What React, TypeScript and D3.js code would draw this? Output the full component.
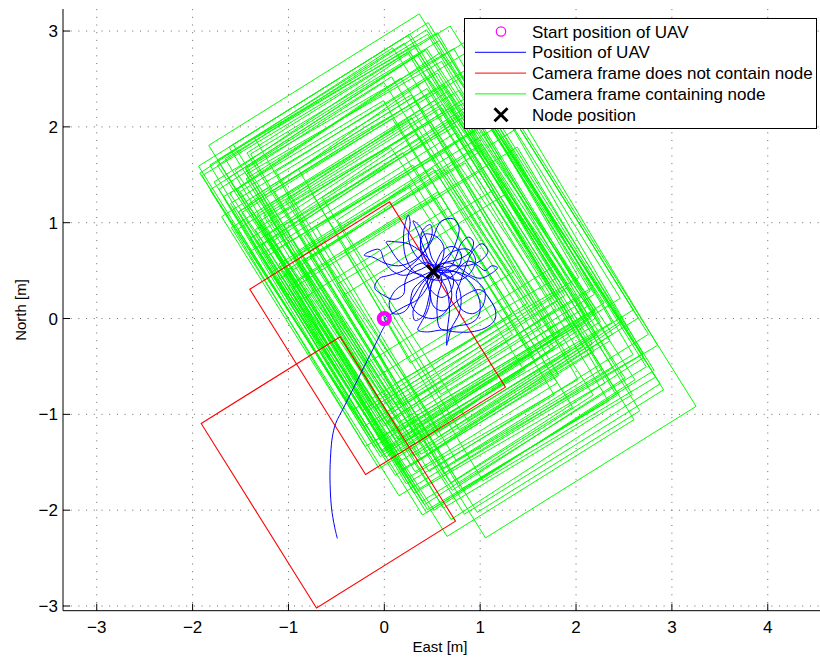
import React, { useEffect, useRef } from 'react';
import * as d3 from 'd3';

const xTicks = [-3, -2, -1, 0, 1, 2, 3, 4];
const yTicks = [-3, -2, -1, 0, 1, 2, 3];

const startPos = [0, 0];
const nodePos = [0.51, 0.49];

// camera frames on the ground: [east, north, width, height, yaw deg]
const missFrames = [
  [-0.07, -0.205, 1.72, 2.28, 32],
  [-0.584, -1.605, 1.71, 2.27, 32],
];

const hitFrames = [
  [0.18, 1.03, 2.59, 3.45, 32],
  [1.24, -0.14, 2.59, 3.45, 32],
  [-0.06, 0.85, 2.4, 3.15, 33],
  [0.159, 0.689, 2.5, 3.3, 32],
  [0.35, 0.572, 2.4, 3.2, 31],
  [0.276, 0.88, 2.6, 3.4, 33],
  [0.276, 0.409, 2.3, 3.1, 32],
  [0.466, 0.763, 2.5, 3.3, 30],
  [0.519, 0.207, 2.4, 3.2, 32],
  [0.18, 0.939, 2.2, 2.95, 34],
  [0.657, 0.647, 2.7, 3.6, 32],
  [0.085, 0.525, 2.2, 2.9, 31],
  [0.668, 0.064, 2.5, 3.3, 33],
  [0.583, 0.483, 2.3, 3.05, 31],
  [0.079, 0.816, 2.6, 3.45, 32],
  [0.827, 0.281, 2.4, 3.2, 33],
  [0.339, 0.212, 2.5, 3.3, 32],
  [0.355, 0.753, 2.35, 3.1, 30],
  [0.514, 0.97, 2.5, 3.35, 32],
  [0.28, 0.589, 2.7, 3.55, 33],
  [0.816, -0.079, 2.3, 3.05, 31],
  [0.28, 1.06, 2.45, 3.25, 32],
  [0.09, 0.705, 2.15, 2.9, 34],
  [0.848, 0.53, 2.6, 3.45, 31],
  [0.456, 0.403, 2.2, 2.95, 32],
  [0.848, 0.059, 2.6, 3.45, 33],
  [0.121, 0.371, 2.35, 3.1, 32],
  [0.376, 1.002, 2.3, 3.05, 31],
  [0.647, 0.286, 2.8, 3.7, 32],
  [0.53, 0.095, 2.3, 3.1, 30],
  [0.286, 0.769, 2.45, 3.25, 33],
  [0.949, 0.18, 2.3, 3.05, 32],
  [0.021, 0.721, 2.5, 3.3, 31],
  [0.477, 0.652, 2.55, 3.4, 34],
  [0.042, 0.97, 2.3, 3.05, 32],
  [0.859, 0.419, 2.4, 3.2, 30],
  [0.568, -0.058, 2.4, 3.2, 32],
  [0.217, 0.784, 2.65, 3.5, 31],
  [0.731, 0.811, 2.4, 3.2, 32],
  [1.013, -0.015, 2.45, 3.25, 32],
  [0.17, 0.106, 1.8, 2.4, 32],
  [-0.032, 0.334, 1.75, 2.33, 33],
  [0.36, -0.011, 1.9, 2.5, 31],
  [-0.053, 0.557, 1.85, 2.45, 32],
  [0.138, -0.032, 1.7, 2.27, 32],
  [0.244, 0.271, 2.0, 2.65, 34],
  [0.382, -0.233, 1.8, 2.4, 31],
  [0.153, 0.509, 1.9, 2.55, 32],
  [0.742, 0.7, 1.8, 2.4, 31],
  [0.986, 0.498, 1.9, 2.5, 33],
  [0.53, -0.376, 1.85, 2.45, 32],
  [-0.053, 1.028, 1.8, 2.4, 32],
  [0.445, 0.986, 1.75, 2.33, 30],
  [0.074, 0.165, 1.9, 2.5, 33],
  [0.44, -0.138, 1.75, 2.35, 32],
  [0.965, -0.223, 1.9, 2.5, 31],
  [0.435, 0.154, 1.7, 2.27, 34],
  [-0.175, 0.657, 1.95, 2.6, 31],
  [0.297, 0.657, 2.1, 2.8, 32],
  [0.678, 0.424, 2.0, 2.66, 33],
  [0.647, -0.185, 2.2, 2.9, 31],
  [0.09, 1.177, 2.15, 2.85, 32],
  [-0.117, 0.753, 2.05, 2.75, 33],
  [1.208, 0.048, 2.1, 2.8, 31],
  [0.439, 0.334, 2.25, 3.0, 32],
  [0.339, 1.155, 2.2, 2.95, 30],
  [0.536, -0.196, 2.1, 2.8, 33],
  [1.113, -0.365, 2.0, 2.66, 32],
  [0.392, 0.599, 2.3, 3.05, 35],
  [0.939, 0.292, 2.15, 2.85, 31],
  [0.106, 0.303, 2.1, 2.8, 32],
  [0.822, -0.371, 2.3, 3.05, 32],
  [0.588, 0.663, 2.05, 2.75, 34],
  [0.111, 0.954, 2.3, 3.05, 31],
  [0.948, 0.652, 2.2, 2.9, 32],
  [0.445, 0.042, 2.05, 2.75, 30],
  [0.833, -0.011, 2.15, 2.85, 33],
  [0.318, 0.435, 1.95, 2.6, 31],
];

// UAV track: fly-in from the south, then hovering over the node
const approachPath = [
  [-0.49, -2.295], [-0.518, -2.177], [-0.552, -1.966], [-0.567, -1.653],
  [-0.559, -1.406], [-0.542, -1.236], [-0.507, -1.094], [-0.421, -0.924],
  [-0.317, -0.716], [-0.213, -0.507], [-0.108, -0.299], [-0.039, -0.156],
  [0.014, -0.039], [0, 0],
];

const hoverPath = [
  [0.08, 0.05], [0.2, 0.12], [0.35, 0.2], [0.45, 0.33], [0.5, 0.45], [0.55, 0.6],
  [0.62, 0.72], [0.72, 0.75], [0.8, 0.68], [0.78, 0.55], [0.66, 0.48], [0.52, 0.5],
  [0.4, 0.58], [0.3, 0.7], [0.25, 0.85], [0.27, 1.0], [0.25, 1.08], [0.22, 1.0],
  [0.2, 0.85], [0.22, 0.65], [0.3, 0.5], [0.45, 0.42], [0.6, 0.4], [0.72, 0.45],
  [0.8, 0.55], [0.88, 0.6], [0.98, 0.55], [1.05, 0.5], [1.12, 0.55], [1.18, 0.53],
  [1.1, 0.46], [1.0, 0.42], [0.9, 0.45], [0.8, 0.52], [0.68, 0.58], [0.55, 0.55],
  [0.48, 0.48], [0.45, 0.38], [0.5, 0.28], [0.6, 0.22], [0.7, 0.3], [0.72, 0.42],
  [0.65, 0.52], [0.5, 0.56], [0.35, 0.5], [0.2, 0.45], [0.08, 0.5], [0.0, 0.6],
  [-0.05, 0.72], [-0.15, 0.7], [-0.21, 0.66], [-0.12, 0.64], [0.0, 0.58], [0.15, 0.55],
  [0.3, 0.6], [0.42, 0.7], [0.5, 0.82], [0.55, 0.95], [0.6, 1.02], [0.72, 1.04],
  [0.78, 0.95], [0.75, 0.8], [0.68, 0.65], [0.58, 0.52], [0.5, 0.45], [0.42, 0.35],
  [0.35, 0.2], [0.3, 0.08], [0.32, -0.02], [0.4, 0.02], [0.45, 0.15], [0.48, 0.3],
  [0.52, 0.45], [0.58, 0.5], [0.7, 0.5], [0.85, 0.42], [0.95, 0.3], [1.0, 0.15],
  [0.98, 0.02], [0.9, -0.05], [0.75, -0.08], [0.65, -0.12], [0.58, -0.1], [0.55, 0.05],
  [0.56, 0.25], [0.6, 0.4], [0.55, 0.52], [0.45, 0.58], [0.32, 0.55], [0.22, 0.4],
  [0.2, 0.25], [0.1, 0.2], [-0.02, 0.25], [-0.1, 0.32], [-0.05, 0.42], [0.05, 0.45],
  [0.2, 0.5], [0.35, 0.62], [0.45, 0.75], [0.5, 0.9], [0.48, 0.98], [0.4, 0.92],
  [0.38, 0.75], [0.45, 0.6], [0.55, 0.5], [0.65, 0.45], [0.75, 0.38], [0.8, 0.22],
  [0.78, 0.05], [0.7, -0.1], [0.66, -0.25], [0.65, -0.28], [0.66, -0.1], [0.68, 0.1],
  [0.65, 0.3], [0.58, 0.42], [0.5, 0.5], [0.62, 0.58], [0.78, 0.62], [0.9, 0.7],
  [0.93, 0.8], [0.88, 0.85], [0.8, 0.78], [0.75, 0.65], [0.7, 0.55], [0.58, 0.45],
  [0.5, 0.38], [0.48, 0.25], [0.52, 0.12], [0.62, 0.08], [0.72, 0.15], [0.85, 0.25],
  [1.0, 0.3], [1.1, 0.2], [1.16, 0.08], [1.15, -0.02], [1.05, -0.1], [0.9, -0.14],
  [0.75, -0.14], [0.6, -0.12], [0.45, -0.14], [0.35, -0.12], [0.38, -0.05], [0.45, 0.08],
  [0.48, 0.22], [0.45, 0.35], [0.4, 0.45], [0.3, 0.48], [0.15, 0.6], [0.05, 0.75],
  [0.02, 0.8], [0.12, 0.8], [0.25, 0.78], [0.38, 0.7], [0.48, 0.6], [0.52, 0.5],
  [0.5, 0.48], [0.4, 0.4], [0.3, 0.3], [0.28, 0.15], [0.35, 0.05], [0.5, 0.0],
  [0.62, 0.05], [0.7, 0.2], [0.68, 0.38], [0.6, 0.5], [0.5, 0.62], [0.45, 0.8],
  [0.38, 0.95], [0.3, 1.02], [0.35, 0.9], [0.42, 0.72], [0.5, 0.55], [0.62, 0.45],
  [0.78, 0.4], [0.9, 0.48], [0.95, 0.62], [0.88, 0.72], [0.72, 0.7], [0.6, 0.6],
  [0.5, 0.5], [0.4, 0.45], [0.25, 0.38], [0.12, 0.3], [0.05, 0.15], [0.1, 0.05],
  [0.22, 0.08], [0.3, 0.22], [0.42, 0.4], [0.55, 0.5], [0.7, 0.55], [0.85, 0.55],
  [1.0, 0.6], [1.08, 0.7], [1.02, 0.78], [0.92, 0.7], [0.85, 0.55], [0.8, 0.4],
  [0.75, 0.25], [0.8, 0.1], [0.92, 0.05], [1.02, 0.12], [1.05, 0.28], [0.95, 0.4],
  [0.78, 0.48], [0.6, 0.5], [0.48, 0.52], [0.4, 0.62], [0.38, 0.8], [0.42, 0.88],
  [0.55, 0.85], [0.62, 0.75], [0.6, 0.6], [0.52, 0.48], [0.45, 0.45],
];

const legendLabels = [
  'Start position of UAV',
  'Position of UAV',
  'Camera frame does not contain node',
  'Camera frame containing node',
  'Node position',
];

const W = 820;
const H = 658;
const FONT = '"Liberation Sans", Arial, Helvetica, sans-serif';

function frameCorners([cx, cy, w, h, a]) {
  const r = (a * Math.PI) / 180;
  const ux = Math.cos(r), uy = Math.sin(r);
  const vx = Math.sin(r), vy = -Math.cos(r);
  return [[-1, -1], [1, -1], [1, 1], [-1, 1]].map(([i, j]) => [
    cx + (i * w * ux) / 2 + (j * h * vx) / 2,
    cy + (i * w * uy) / 2 + (j * h * vy) / 2,
  ]);
}

const App = () => {
  const ref = useRef(null);

  useEffect(() => {
    document.body.style.margin = '0';
    const svg = d3.select(ref.current);
    svg.selectAll('*').remove();

    const left = 63, right = 820, top = 9, bottom = 610.7;
    const x = d3.scaleLinear().domain([-3.352, 4.545]).range([left, right]);
    const y = d3.scaleLinear().domain([-3.049, 3.23]).range([bottom, top]);

    svg.append('rect').attr('width', W).attr('height', H).attr('fill', '#fff');

    svg.append('defs').append('clipPath').attr('id', 'plot')
      .append('rect')
      .attr('x', left).attr('y', top)
      .attr('width', right - left).attr('height', bottom - top);

    // grid
    const grid = svg.append('g')
      .attr('stroke', '#444')
      .attr('stroke-width', 0.8)
      .attr('stroke-dasharray', '1,6.7');
    grid.selectAll('.gx').data(xTicks).enter().append('line')
      .attr('x1', (d) => x(d)).attr('x2', (d) => x(d))
      .attr('y1', bottom).attr('y2', top);
    grid.selectAll('.gy').data(yTicks).enter().append('line')
      .attr('y1', (d) => y(d)).attr('y2', (d) => y(d))
      .attr('x1', left).attr('x2', right);

    const plot = svg.append('g').attr('clip-path', 'url(#plot)');
    const line = d3.line().x((d) => x(d[0])).y((d) => y(d[1]));

    plot.selectAll('.hit').data(hitFrames).enter().append('path')
      .attr('d', (d) => line(frameCorners(d)) + 'Z')
      .attr('fill', 'none')
      .attr('stroke', '#00ff00')
      .attr('stroke-width', 1);

    plot.selectAll('.miss').data(missFrames).enter().append('path')
      .attr('d', (d) => line(frameCorners(d)) + 'Z')
      .attr('fill', 'none')
      .attr('stroke', '#ff0000')
      .attr('stroke-width', 1.1);

    const track = d3.line()
      .x((d) => x(d[0])).y((d) => y(d[1]))
      .curve(d3.curveCatmullRom.alpha(0.5));
    plot.append('path')
      .attr('d', track(approachPath.concat(hoverPath)))
      .attr('fill', 'none')
      .attr('stroke', '#0000ff')
      .attr('stroke-width', 1);

    plot.append('circle')
      .attr('cx', x(startPos[0])).attr('cy', y(startPos[1]))
      .attr('r', 5.3)
      .attr('fill', 'none')
      .attr('stroke', '#ff00ff')
      .attr('stroke-width', 4.6);

    const cross = (g, cx, cy, s) => {
      g.append('path')
        .attr('d', `M${cx - s},${cy - s}L${cx + s},${cy + s}M${cx - s},${cy + s}L${cx + s},${cy - s}`)
        .attr('stroke', '#000')
        .attr('stroke-width', 3)
        .attr('fill', 'none');
    };
    cross(plot, x(nodePos[0]), y(nodePos[1]), 6.5);

    // axes
    const axes = svg.append('g').attr('stroke', '#000').attr('stroke-width', 1);
    axes.append('line').attr('x1', left).attr('x2', left).attr('y1', top).attr('y2', bottom);
    axes.append('line').attr('x1', left).attr('x2', right).attr('y1', bottom).attr('y2', bottom);
    axes.selectAll('.tx').data(xTicks).enter().append('line')
      .attr('x1', (d) => x(d)).attr('x2', (d) => x(d))
      .attr('y1', bottom).attr('y2', bottom - 7);
    axes.selectAll('.ty').data(yTicks).enter().append('line')
      .attr('y1', (d) => y(d)).attr('y2', (d) => y(d))
      .attr('x1', left).attr('x2', left + 7);

    const fmt = (d) => (d < 0 ? '\u2212' + Math.abs(d) : String(d));
    svg.selectAll('.lx').data(xTicks).enter().append('text')
      .attr('x', (d) => x(d)).attr('y', bottom + 22.5)
      .attr('text-anchor', 'middle')
      .attr('font-family', FONT).attr('font-size', 17)
      .text(fmt);
    svg.selectAll('.ly').data(yTicks).enter().append('text')
      .attr('x', left - 5).attr('y', (d) => y(d) + 6)
      .attr('text-anchor', 'end')
      .attr('font-family', FONT).attr('font-size', 17)
      .text(fmt);

    svg.append('text')
      .attr('x', 440).attr('y', 652)
      .attr('text-anchor', 'middle')
      .attr('font-family', FONT).attr('font-size', 15)
      .text('East [m]');
    svg.append('text')
      .attr('transform', 'translate(26,310) rotate(-90)')
      .attr('text-anchor', 'middle')
      .attr('font-family', FONT).attr('font-size', 15)
      .text('North [m]');

    // legend
    const lg = svg.append('g');
    lg.append('rect')
      .attr('x', 464.5).attr('y', 18.5).attr('width', 352).attr('height', 110)
      .attr('fill', '#fff').attr('stroke', '#000').attr('stroke-width', 1);
    const rowY = (i) => 31.5 + i * 20.8;
    lg.selectAll('.lt').data(legendLabels).enter().append('text')
      .attr('x', 532).attr('y', (d, i) => rowY(i) + 6)
      .attr('font-family', FONT).attr('font-size', 17)
      .text((d) => d);
    lg.append('circle')
      .attr('cx', 501).attr('cy', rowY(0)).attr('r', 4.7)
      .attr('fill', 'none').attr('stroke', '#ff00ff').attr('stroke-width', 1.2);
    [['#0000ff', 1], ['#ff0000', 2], ['#00ff00', 3]].forEach(([c, i]) => {
      lg.append('line')
        .attr('x1', 475).attr('x2', 526)
        .attr('y1', rowY(i)).attr('y2', rowY(i))
        .attr('stroke', c).attr('stroke-width', 1);
    });
    cross(lg, 501, rowY(4), 6.5);
  }, []);

  return <svg ref={ref} width={W} height={H} style={{ display: 'block' }} />;
};

export default App;
